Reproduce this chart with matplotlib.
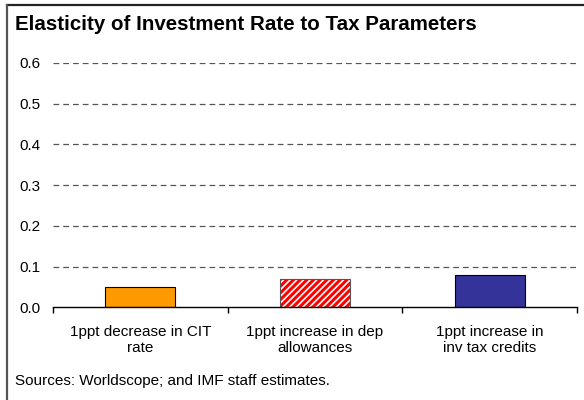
import matplotlib
matplotlib.use("Agg")
import matplotlib.pyplot as plt
from matplotlib.lines import Line2D

plt.rcParams['font.family'] = ['Liberation Sans', 'DejaVu Sans']
plt.rcParams['hatch.linewidth'] = 2.2

categories = ["1ppt decrease in CIT\nrate", "1ppt increase in dep\nallowances", "1ppt increase in\ninv tax credits"]
values = [0.05, 0.07, 0.08]
colors = ['#FF9900', 'white', '#333399']
hatches = [None, '/////', None]
yticks = [0.0, 0.1, 0.2, 0.3, 0.4, 0.5, 0.6]

fig = plt.figure(figsize=(5.84, 4.0), dpi=100)
ax = fig.add_axes([53 / 584, 0.232, 524 / 584, 0.6105])

x = list(range(len(categories)))
for i, (v, c, h) in enumerate(zip(values, colors, hatches)):
    if h:
        ax.bar(i, v, width=0.4, color=c, hatch=h, edgecolor='#FF0000', linewidth=0, zorder=3)
        ax.bar(i, v, width=0.4, fill=False, edgecolor='#555555', linewidth=0.8, zorder=4)
    else:
        ax.bar(i, v, width=0.4, color=c, edgecolor='black', linewidth=0.8, zorder=3)

for yv in yticks[1:]:
    ax.axhline(yv, color='#555555', linewidth=0.9, linestyle=(0, (4.6, 3.2)), zorder=1)

ax.set_xlim(-0.5, len(categories) - 0.5)
ax.set_ylim(0, 0.6)
ax.set_yticks(yticks)
ax.set_yticklabels([f"{t:.1f}" for t in yticks], fontsize=11)
ax.tick_params(axis='y', length=0, pad=9)

ax.set_xticks([-0.5, 0.5, 1.5, 2.5])
ax.set_xticklabels([])
ax.set_xticks(x, minor=True)
ax.set_xticklabels(categories, minor=True, fontsize=11, linespacing=1.15)
ax.tick_params(axis='x', which='major', length=4, width=1, color='black')
ax.tick_params(axis='x', which='minor', length=0, pad=13)

for s in ['left', 'top', 'right']:
    ax.spines[s].set_visible(False)
ax.spines['bottom'].set_linewidth(1.0)
ax.spines['bottom'].set_zorder(5)

fig.text(15 / 584, 1 - 25 / 400, "Elasticity of Investment Rate to Tax Parameters",
         fontsize=14.8, fontweight='bold', ha='left', va='center')
fig.text(15 / 584, 1 - 381 / 400, "Sources: Worldscope; and IMF staff estimates.",
         fontsize=11, ha='left', va='center')

# frame lines (top and left)
fig.add_artist(Line2D([7 / 584, 1], [1 - 5 / 400, 1 - 5 / 400], color='#222222', linewidth=1.6, transform=fig.transFigure))
fig.add_artist(Line2D([7 / 584, 7 / 584], [0, 1 - 5 / 400], color='#555555', linewidth=1.6, transform=fig.transFigure))

fig.savefig("out.png", dpi=100, facecolor='white')
